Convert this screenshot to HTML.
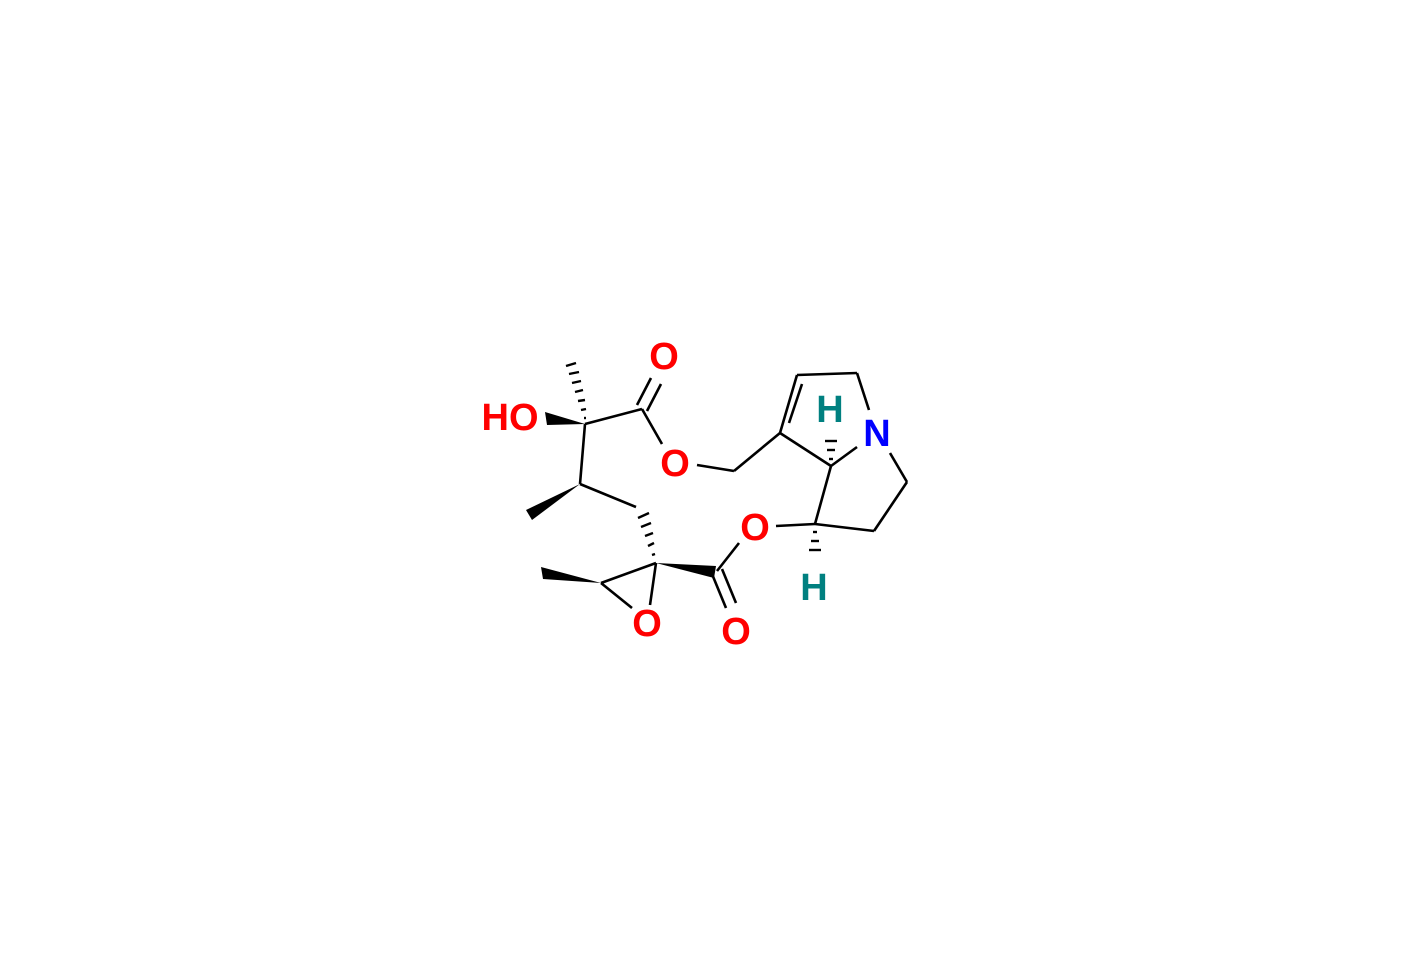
<!DOCTYPE html>
<html><head><style>body{margin:0;background:#fff}svg{display:block}text{font-family:"Liberation Sans",Arial,sans-serif;font-weight:bold}</style></head><body>
<svg width="1410" height="965" xmlns="http://www.w3.org/2000/svg">
<g stroke="#000" stroke-width="2.6" fill="none">
<line x1="585" y1="424" x2="642" y2="409"/>
<line x1="642" y1="409" x2="662" y2="444"/>
<line x1="637" y1="405" x2="651" y2="378"/>
<line x1="647" y1="411" x2="661" y2="384"/>
<line x1="697" y1="465" x2="734" y2="471"/>
<line x1="734" y1="471" x2="780" y2="433"/>
<line x1="780" y1="433" x2="797" y2="375"/>
<line x1="789" y1="423" x2="802" y2="384"/>
<line x1="797" y1="375" x2="857" y2="373"/>
<line x1="857" y1="373" x2="869" y2="410"/>
<line x1="890" y1="453" x2="907" y2="482"/>
<line x1="907" y1="482" x2="874" y2="531"/>
<line x1="874" y1="531" x2="815" y2="524"/>
<line x1="831" y1="466" x2="780" y2="433"/>
<line x1="831" y1="466" x2="857" y2="447"/>
<line x1="831" y1="466" x2="815" y2="524"/>
<line x1="815" y1="524" x2="776" y2="526"/>
<line x1="739" y1="543" x2="717" y2="571"/>
<line x1="712" y1="574" x2="726" y2="608"/>
<line x1="722" y1="569" x2="736" y2="603"/>
<line x1="636" y1="507" x2="580" y2="484"/>
<line x1="580" y1="484" x2="585" y2="424"/>
<line x1="656" y1="563" x2="601" y2="583"/>
<line x1="601" y1="583" x2="632" y2="608"/>
<line x1="656" y1="563" x2="650" y2="605"/>
</g>
<g fill="#000">
<polygon points="585,424 545,412 547,425"/>
<polygon points="580,484 526,510 532,520"/>
<polygon points="601,583 541,567 543,579"/>
<polygon points="656,563 716,566 714,578"/>
</g>
<g stroke="#000" stroke-width="2.4">
<line x1="584" y1="418" x2="586" y2="418"/>
<line x1="581" y1="410" x2="586" y2="409"/>
<line x1="578" y1="401" x2="585" y2="400"/>
<line x1="575" y1="392" x2="583" y2="390"/>
<line x1="572" y1="383" x2="581" y2="381"/>
<line x1="569" y1="374" x2="579" y2="372"/>
<line x1="566" y1="366" x2="576" y2="363"/>
<line x1="652" y1="555" x2="655" y2="554"/>
<line x1="648" y1="546" x2="654" y2="543"/>
<line x1="645" y1="536" x2="653" y2="533"/>
<line x1="641" y1="527" x2="651" y2="523"/>
<line x1="638" y1="518" x2="649" y2="513"/>
<line x1="829" y1="459" x2="833" y2="459"/>
<line x1="827" y1="450" x2="835" y2="450"/>
<line x1="825" y1="441" x2="837" y2="441"/>
<line x1="813" y1="532" x2="817" y2="532"/>
<line x1="811" y1="541" x2="819" y2="541"/>
<line x1="809" y1="550" x2="821" y2="550"/>
</g>
<g font-size="38" text-anchor="middle">
<text x="510" y="430" fill="#f00">HO</text>
<text x="664" y="369" fill="#f00">O</text>
<text x="675" y="476" fill="#f00">O</text>
<text x="755" y="540" fill="#f00">O</text>
<text x="736" y="644" fill="#f00">O</text>
<text x="647" y="636" fill="#f00">O</text>
<text x="877" y="446" fill="#00f">N</text>
<text x="830" y="422" fill="#008080">H</text>
<text x="814" y="600" fill="#008080">H</text>
</g>
</svg>
</body></html>
